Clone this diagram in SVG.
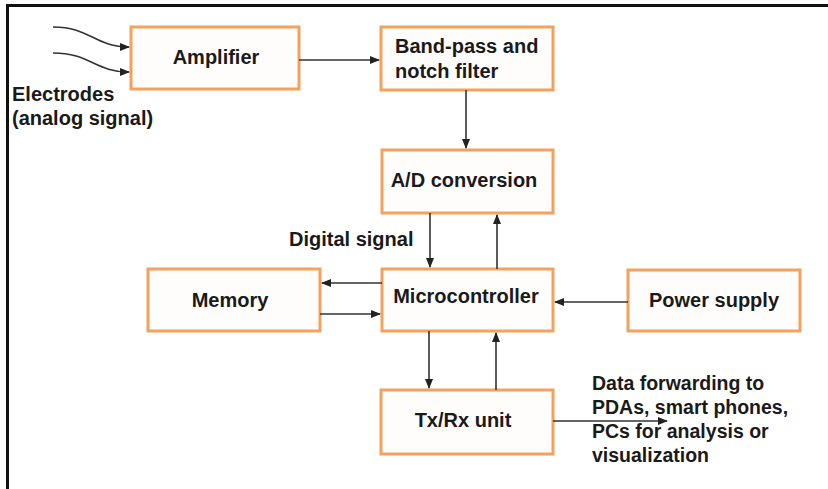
<svg xmlns="http://www.w3.org/2000/svg" width="828" height="489" viewBox="0 0 828 489">
<style>
.box{fill:#fffdfb;stroke:#f3a15e;stroke-width:3}
.t{font-family:"Liberation Sans",Arial,sans-serif;font-weight:bold;font-size:20px;fill:#1a1a1a}
.d{font-size:19.5px}
.c{fill:none;stroke:#333;stroke-width:1.6}
</style>
<defs>
<marker id="ah" markerWidth="10" markerHeight="8" refX="9" refY="4" orient="auto" markerUnits="userSpaceOnUse">
<path d="M0,0 L10,4 L0,8 Z" fill="#222"/>
</marker>
</defs>
<rect x="0" y="0" width="828" height="489" fill="#fff"/>
<g id="frame">
<line x1="7" y1="5.5" x2="828" y2="5.5" stroke="#111" stroke-width="3"/>
<line x1="7.5" y1="4" x2="7.5" y2="489" stroke="#111" stroke-width="3"/>
</g>
<g id="amplifier"><rect class="box" x="131" y="27" width="168" height="62"/><text class="t" x="216" y="64" text-anchor="middle">Amplifier</text></g>
<g id="bandpass"><rect class="box" x="381" y="27" width="172" height="63"/><text class="t" x="395" y="53">Band-pass and</text><text class="t" x="395" y="78">notch filter</text></g>
<g id="adc"><rect class="box" x="382" y="150" width="171" height="63"/><text class="t" x="464" y="187" text-anchor="middle">A/D conversion</text></g>
<g id="micro"><rect class="box" x="382" y="269" width="171" height="62"/><text class="t" x="466" y="303" text-anchor="middle">Microcontroller</text></g>
<g id="memory"><rect class="box" x="148" y="269" width="172" height="62"/><text class="t" x="230" y="307" text-anchor="middle">Memory</text></g>
<g id="power"><rect class="box" x="628" y="270" width="172" height="61"/><text class="t" x="714" y="307" text-anchor="middle">Power supply</text></g>
<g id="txrx"><rect class="box" x="381" y="390" width="172" height="64"/><text class="t" x="463" y="427" text-anchor="middle">Tx/Rx unit</text></g>
<g id="labels">
<text class="t" x="12" y="101">Electrodes</text>
<text class="t" x="12" y="125">(analog signal)</text>
<text class="t" x="289" y="246">Digital signal</text>
<text class="t d" x="592" y="390">Data forwarding to</text>
<text class="t d" x="592" y="414">PDAs, smart phones,</text>
<text class="t d" x="592" y="438">PCs for analysis or</text>
<text class="t d" x="592" y="462">visualization</text>
</g>
<g id="connectors">
<path class="c" d="M53,27 C90,27 95,47 129,47" marker-end="url(#ah)"/>
<path class="c" d="M53,53 C90,53 95,72 129,72" marker-end="url(#ah)"/>
<line class="c" x1="299" y1="60" x2="379" y2="60" marker-end="url(#ah)"/>
<line class="c" x1="466" y1="90" x2="466" y2="148" marker-end="url(#ah)"/>
<line class="c" x1="430" y1="213" x2="430" y2="267" marker-end="url(#ah)"/>
<line class="c" x1="497" y1="269" x2="497" y2="215" marker-end="url(#ah)"/>
<line class="c" x1="382" y1="283" x2="322" y2="283" marker-end="url(#ah)"/>
<line class="c" x1="320" y1="314" x2="380" y2="314" marker-end="url(#ah)"/>
<line class="c" x1="628" y1="302" x2="555" y2="302" marker-end="url(#ah)"/>
<line class="c" x1="429" y1="331" x2="429" y2="388" marker-end="url(#ah)"/>
<line class="c" x1="496" y1="390" x2="496" y2="333" marker-end="url(#ah)"/>
<line class="c" x1="553" y1="421" x2="667" y2="421" marker-end="url(#ah)"/>
</g>
</svg>
